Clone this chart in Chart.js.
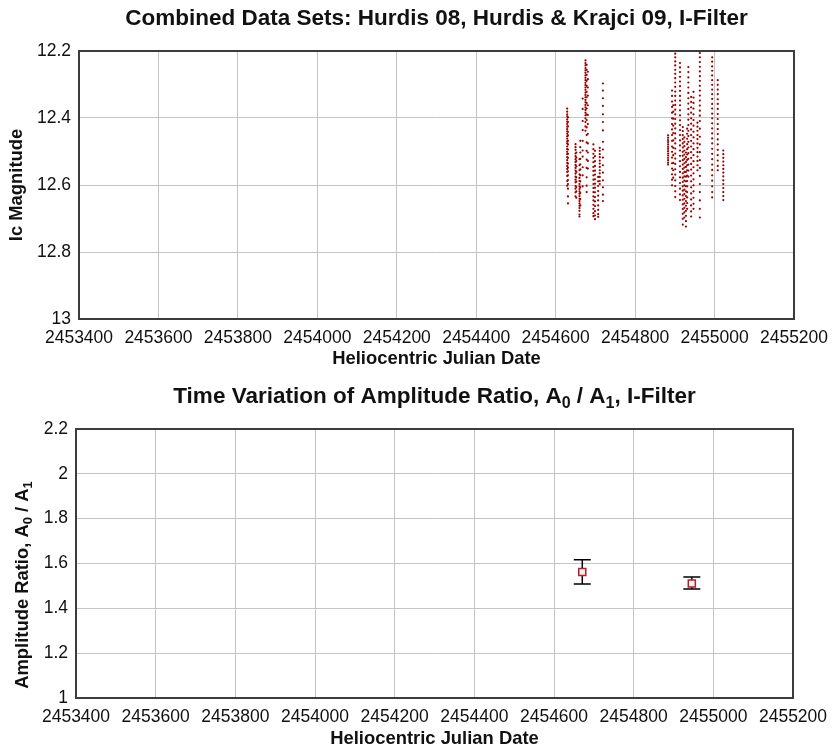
<!DOCTYPE html>
<html>
<head>
<meta charset="utf-8">
<script src="https://cdn.jsdelivr.net/npm/chart.js@4.4.1/dist/chart.umd.min.js"></script>
<style>
  html, body { margin: 0; padding: 0; background: #fff; }
  #wrap { position: relative; width: 840px; height: 750px; }
  .box { position: absolute; left: 0; width: 840px; }
  #top { top: 0; height: 370px; }
  #bot { top: 370px; height: 380px; }
</style>
</head>
<body>
<div id="wrap">
  <div class="box" id="top"><canvas id="graficoMag" width="840" height="370"></canvas></div>
  <div class="box" id="bot"><canvas id="graficoRatio" width="840" height="380"></canvas></div>
</div>
<script>
// HJD of each observing night (Hurdis 08 / Hurdis & Krajci 09, I-filter)
const nightHJD = [
  2454629, 2454631, 2454650, 2454652, 2454660, 2454662, 2454668, 2454675,
  2454678, 2454681, 2454695, 2454699, 2454707, 2454711, 2454719,
  2454883, 2454893, 2454896, 2454901, 2454913, 2454920, 2454924, 2454928,
  2454931, 2454934, 2454941, 2454947, 2454957, 2454963, 2454994, 2455008, 2455022
];

// Ic magnitudes measured on each night (same order as nightHJD)
const nightMag = [
  [12.372, 12.381, 12.389, 12.395, 12.404, 12.411, 12.418, 12.426, 12.433, 12.440, 12.447, 12.455, 12.462, 12.470, 12.476, 12.485, 12.493, 12.501, 12.508, 12.517, 12.526, 12.534, 12.543, 12.552, 12.561, 12.573, 12.588, 12.602],
  [12.398, 12.412, 12.425, 12.441, 12.452, 12.468, 12.479, 12.494, 12.507, 12.519, 12.536, 12.548, 12.559, 12.571, 12.585, 12.597, 12.611, 12.634, 12.655],
  [12.478, 12.487, 12.495, 12.506, 12.514, 12.523, 12.531, 12.540, 12.549, 12.557, 12.566, 12.575, 12.584, 12.592, 12.603, 12.611, 12.622, 12.634],
  [12.503, 12.518, 12.529, 12.544, 12.561, 12.577, 12.590, 12.606, 12.619, 12.638],
  [12.523, 12.541, 12.556, 12.568, 12.579, 12.588, 12.597, 12.604, 12.612, 12.619, 12.626, 12.633, 12.641, 12.648, 12.655, 12.662, 12.669, 12.677, 12.688, 12.694],
  [12.468, 12.487, 12.503, 12.522, 12.538, 12.553, 12.571, 12.589, 12.607, 12.624, 12.642, 12.661],
  [12.342, 12.373, 12.409, 12.436, 12.468, 12.497, 12.515, 12.547, 12.571, 12.604],
  [12.228, 12.236, 12.243, 12.251, 12.258, 12.265, 12.273, 12.280, 12.287, 12.295, 12.302, 12.309, 12.316, 12.324, 12.331, 12.338, 12.346, 12.353, 12.361, 12.368, 12.376, 12.384, 12.392, 12.401, 12.412, 12.425, 12.438],
  [12.241, 12.256, 12.271, 12.289, 12.304, 12.322, 12.338, 12.355, 12.372, 12.389, 12.406, 12.428, 12.451, 12.473, 12.498, 12.524, 12.549, 12.577, 12.602, 12.621],
  [12.262, 12.284, 12.309, 12.333, 12.362, 12.391, 12.418, 12.447, 12.476, 12.503, 12.528, 12.551],
  [12.479, 12.493, 12.507, 12.519, 12.532, 12.546, 12.558, 12.571, 12.584, 12.597, 12.609, 12.621, 12.634, 12.646, 12.659, 12.671, 12.684, 12.693],
  [12.498, 12.514, 12.529, 12.543, 12.557, 12.569, 12.583, 12.596, 12.608, 12.622, 12.636, 12.649, 12.663, 12.678, 12.691, 12.702],
  [12.576, 12.589, 12.603, 12.618, 12.632, 12.646, 12.661, 12.674, 12.687, 12.695],
  [12.489, 12.498, 12.508, 12.517, 12.527, 12.536, 12.546, 12.556, 12.565, 12.576, 12.588, 12.597],
  [12.297, 12.318, 12.341, 12.364, 12.389, 12.412, 12.437, 12.471, 12.494, 12.518, 12.541, 12.563, 12.586, 12.607, 12.629, 12.648],
  [12.452, 12.459, 12.466, 12.472, 12.479, 12.486, 12.492, 12.499, 12.506, 12.512, 12.519, 12.526, 12.533, 12.539],
  [12.318, 12.334, 12.351, 12.367, 12.384, 12.401, 12.418, 12.434, 12.451, 12.468, 12.485, 12.501, 12.518, 12.535, 12.551, 12.568, 12.584, 12.601],
  [12.362, 12.381, 12.402, 12.423, 12.445, 12.467, 12.489, 12.511, 12.534, 12.556, 12.578],
  [12.208, 12.219, 12.231, 12.243, 12.256, 12.268, 12.281, 12.294, 12.307, 12.321, 12.334, 12.348, 12.361, 12.375, 12.389, 12.403, 12.417, 12.431, 12.446, 12.461, 12.476, 12.491, 12.506, 12.521, 12.537, 12.553, 12.569, 12.586, 12.603, 12.619, 12.636],
  [12.236, 12.249, 12.263, 12.277, 12.291, 12.305, 12.319, 12.334, 12.348, 12.362, 12.377, 12.392, 12.407, 12.421, 12.436, 12.451, 12.467, 12.482, 12.497, 12.513, 12.529, 12.544, 12.561, 12.577, 12.594, 12.611, 12.628, 12.645],
  [12.427, 12.439, 12.451, 12.463, 12.476, 12.488, 12.501, 12.513, 12.526, 12.539, 12.552, 12.565, 12.578, 12.591, 12.604, 12.617, 12.631, 12.644, 12.658, 12.672, 12.686, 12.701, 12.718],
  [12.458, 12.471, 12.484, 12.497, 12.509, 12.522, 12.535, 12.548, 12.561, 12.574, 12.587, 12.601, 12.614, 12.627, 12.641, 12.655, 12.668, 12.682, 12.697],
  [12.503, 12.517, 12.531, 12.546, 12.561, 12.575, 12.589, 12.604, 12.619, 12.633, 12.648, 12.662, 12.677, 12.692, 12.708, 12.724],
  [12.432, 12.447, 12.462, 12.478, 12.493, 12.509, 12.525, 12.541, 12.556, 12.572, 12.588, 12.604, 12.621, 12.637, 12.654, 12.671],
  [12.248, 12.263, 12.279, 12.294, 12.309, 12.325, 12.341, 12.357, 12.373, 12.389, 12.405, 12.421, 12.438, 12.454, 12.471, 12.488, 12.505, 12.522, 12.539, 12.557, 12.575],
  [12.337, 12.352, 12.368, 12.384, 12.401, 12.417, 12.434, 12.451, 12.468, 12.485, 12.502, 12.519, 12.537, 12.554, 12.572, 12.589, 12.607, 12.625, 12.643, 12.661, 12.679, 12.694],
  [12.322, 12.339, 12.355, 12.372, 12.389, 12.406, 12.423, 12.441, 12.458, 12.476, 12.493, 12.511, 12.529, 12.547, 12.565, 12.583, 12.601, 12.619, 12.638, 12.656, 12.671],
  [12.414, 12.426, 12.438, 12.451, 12.463, 12.476, 12.489, 12.502, 12.515, 12.528, 12.541, 12.556],
  [12.206, 12.219, 12.233, 12.247, 12.261, 12.275, 12.289, 12.304, 12.318, 12.333, 12.348, 12.363, 12.378, 12.393, 12.409, 12.432, 12.456, 12.479, 12.502, 12.526, 12.549, 12.573, 12.597, 12.621, 12.646, 12.671, 12.697],
  [12.219, 12.232, 12.246, 12.259, 12.273, 12.287, 12.301, 12.315, 12.329, 12.343, 12.358, 12.372, 12.387, 12.401, 12.416, 12.431, 12.446, 12.461, 12.476, 12.492, 12.507, 12.523, 12.539, 12.555, 12.571, 12.587, 12.604, 12.621, 12.637],
  [12.287, 12.301, 12.315, 12.329, 12.344, 12.358, 12.373, 12.388, 12.403, 12.418, 12.433, 12.448, 12.464, 12.479, 12.495, 12.511, 12.527, 12.543, 12.556],
  [12.497, 12.508, 12.519, 12.530, 12.541, 12.552, 12.563, 12.574, 12.586, 12.597, 12.609, 12.621, 12.633, 12.645]
];

// Amplitude ratio A0/A1 per season, with error bar limits
const ratioHJD = [2454671, 2454946];
const ratio = [1.562, 1.511];
const ratioHigh = [1.617, 1.540];
const ratioLow = [1.508, 1.486];

const FONT = '"Liberation Sans", Arial, sans-serif';
const INK = '#111';
const TICK_SIZE = 17.5;
const AXIS_TITLE_SIZE = 18.4;
const TITLE_SIZE = 22.5;

const framePlugin = {
  id: 'frame',
  afterDatasetsDraw(chart) {
    const { ctx, chartArea: a } = chart;
    ctx.save();
    ctx.strokeStyle = '#3c3c3c';
    ctx.lineWidth = 2;
    ctx.strokeRect(a.left, a.top, a.right - a.left, a.bottom - a.top);
    ctx.restore();
  }
};

// text with subscripts: parts = [[text, isSub], ...]
function drawRich(ctx, parts, x, y, size, rotate) {
  const big = `bold ${size}px ${FONT}`;
  const small = `bold ${Math.round(size * 0.72)}px ${FONT}`;
  ctx.save();
  ctx.translate(x, y);
  if (rotate) ctx.rotate(-Math.PI / 2);
  let w = 0;
  parts.forEach(p => { ctx.font = p[1] ? small : big; w += ctx.measureText(p[0]).width; });
  let cx = -w / 2;
  const base = size * 0.36;
  ctx.fillStyle = INK;
  ctx.textBaseline = 'alphabetic';
  parts.forEach(p => {
    ctx.font = p[1] ? small : big;
    ctx.fillText(p[0], cx, p[1] ? base + size * 0.22 : base);
    cx += ctx.measureText(p[0]).width;
  });
  ctx.restore();
}

// chart title centred over the plot area, like the original
function titlePlugin(parts, y) {
  return {
    id: 'plotTitle',
    afterDraw(chart) {
      const a = chart.chartArea;
      drawRich(chart.ctx, parts, (a.left + a.right) / 2, y, TITLE_SIZE, false);
    }
  };
}

function xScale(height) {
  return {
    type: 'linear',
    min: 2453400,
    max: 2455200,
    afterFit: s => { s.height = height; },
    ticks: { stepSize: 200, padding: 9, color: INK, font: { family: FONT, size: TICK_SIZE }, maxRotation: 0, callback: v => String(v) },
    grid: { color: '#c4c4c4', lineWidth: 1, drawTicks: false },
    border: { display: false },
    title: { display: true, text: 'Heliocentric Julian Date', color: INK, font: { family: FONT, size: AXIS_TITLE_SIZE, weight: 'bold' }, padding: { top: 0, bottom: 0 } }
  };
}

function renderGraficoMag() {
  const pts = [];
  nightHJD.forEach((jd, i) => nightMag[i].forEach(m => pts.push({ x: jd, y: m })));
  new Chart(document.getElementById('graficoMag'), {
    type: 'scatter',
    data: {
      datasets: [{
        data: pts,
        pointRadius: 1.1,
        pointBorderWidth: 0,
        pointBackgroundColor: '#990000',
        pointBorderColor: '#990000'
      }]
    },
    options: {
      responsive: false,
      animation: false,
      layout: { padding: { left: 0, right: 46, top: 51, bottom: 0 } },
      plugins: { legend: { display: false }, tooltip: { enabled: false } },
      scales: {
        x: xScale(51),
        y: {
          type: 'linear',
          reverse: true,
          min: 12.2,
          max: 13,
          afterFit: s => { s.width = 79; },
          ticks: { stepSize: 0.2, padding: 8, color: INK, font: { family: FONT, size: TICK_SIZE }, callback: v => String(+v.toFixed(1)) },
          grid: { color: '#c4c4c4', lineWidth: 1, drawTicks: false },
          border: { display: false },
          title: { display: true, text: 'Ic Magnitude', color: INK, font: { family: FONT, size: AXIS_TITLE_SIZE, weight: 'bold' }, padding: { top: 6, bottom: 0 } }
        }
      }
    },
    plugins: [framePlugin, titlePlugin([['Combined Data Sets: Hurdis 08, Hurdis & Krajci 09, I-Filter', false]], 17)]
  });
}

const errorBarPlugin = {
  id: 'errorBars',
  beforeDatasetsDraw(chart) {
    const { ctx, scales: { x, y } } = chart;
    ctx.save();
    ctx.strokeStyle = '#000';
    ctx.lineWidth = 1.5;
    ratioHJD.forEach((jd, i) => {
      const px = x.getPixelForValue(jd);
      const top = y.getPixelForValue(ratioHigh[i]);
      const bot = y.getPixelForValue(ratioLow[i]);
      ctx.beginPath();
      ctx.moveTo(px, top); ctx.lineTo(px, bot);
      ctx.moveTo(px - 8.5, top); ctx.lineTo(px + 8.5, top);
      ctx.moveTo(px - 8.5, bot); ctx.lineTo(px + 8.5, bot);
      ctx.stroke();
    });
    ctx.restore();
  },
  afterDraw(chart) {
    drawRich(chart.ctx, [['Amplitude Ratio, A', false], ['0', true], [' / A', false], ['1', true]], 21.5, 215, AXIS_TITLE_SIZE, true);
  }
};

function renderGraficoRatio() {
  new Chart(document.getElementById('graficoRatio'), {
    type: 'scatter',
    data: {
      datasets: [{
        data: ratioHJD.map((jd, i) => ({ x: jd, y: ratio[i] })),
        pointStyle: 'rect',
        pointRadius: 5,
        pointBorderWidth: 1.5,
        pointBorderColor: '#b0202a',
        pointBackgroundColor: '#f6eeee'
      }]
    },
    options: {
      responsive: false,
      animation: false,
      layout: { padding: { left: 0, right: 47, top: 59, bottom: 0 } },
      plugins: { legend: { display: false }, tooltip: { enabled: false } },
      scales: {
        x: xScale(52),
        y: {
          type: 'linear',
          min: 1,
          max: 2.2,
          afterFit: s => { s.width = 76; },
          ticks: { stepSize: 0.2, padding: 8, color: INK, font: { family: FONT, size: TICK_SIZE }, callback: v => String(+v.toFixed(1)) },
          grid: { color: '#c4c4c4', lineWidth: 1, drawTicks: false },
          border: { display: false }
        }
      }
    },
    plugins: [errorBarPlugin, framePlugin, titlePlugin([['Time Variation of Amplitude Ratio, A', false], ['0', true], [' / A', false], ['1', true], [', I-Filter', false]], 25)]
  });
}

document.addEventListener('DOMContentLoaded', () => {
  renderGraficoMag();
  renderGraficoRatio();
});
</script>
</body>
</html>
